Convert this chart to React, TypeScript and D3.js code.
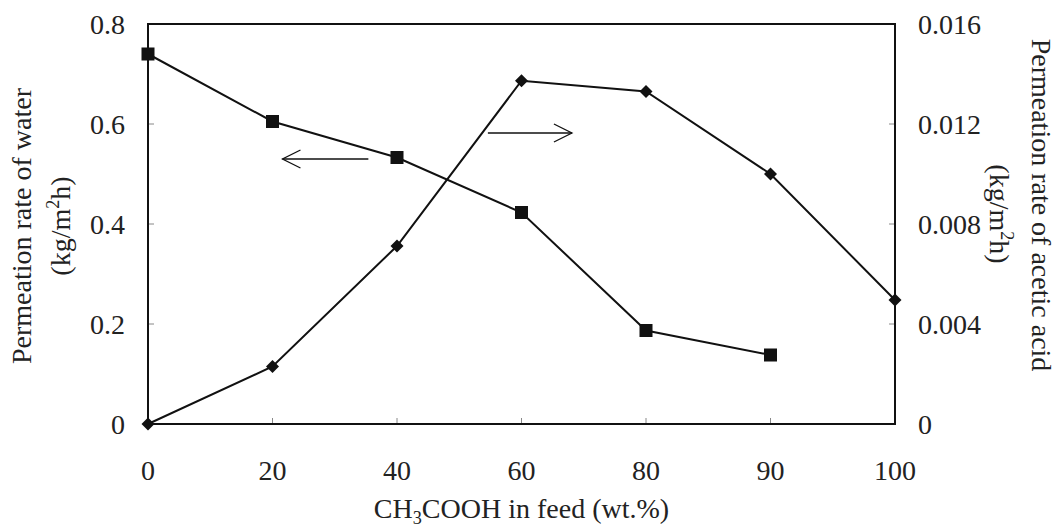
import React from "react";
import * as d3 from "d3";

const categories = ["0", "20", "40", "60", "80", "90", "100"];
const waterRate = [0.74, 0.605, 0.533, 0.423, 0.187, 0.138];
const aceticRate = [0, 0.0023, 0.00712, 0.01373, 0.0133, 0.01, 0.00496];
const leftTicks = [0, 0.2, 0.4, 0.6, 0.8];
const leftTickLabels = ["0", "0.2", "0.4", "0.6", "0.8"];
const rightTicks = [0, 0.004, 0.008, 0.012, 0.016];
const rightTickLabels = ["0", "0.004", "0.008", "0.012", "0.016"];
// arrow annotations: [index position, value] on the matching axis
const leftArrow = { from: [1.77, 0.53], to: [1.08, 0.53] };
const rightArrow = { from: [2.73, 0.01164], to: [3.405, 0.01164] };

const W = 1058;
const H = 530;
const X0 = 148;
const X1 = 895;
const Y0 = 424;
const Y1 = 24;
const FONT = "'Liberation Serif', 'Times New Roman', serif";
const FS = 28;

export default function App() {
  const x = d3.scalePoint<string>().domain(categories).range([X0, X1]).padding(0);
  const xIdx = d3.scaleLinear().domain([0, categories.length - 1]).range([X0, X1]);
  const yL = d3.scaleLinear().domain([0, 0.8]).range([Y0, Y1]);
  const yR = d3.scaleLinear().domain([0, 0.016]).range([Y0, Y1]);

  const waterLine = d3
    .line<number>()
    .x((_, i) => x(categories[i]) as number)
    .y((d) => yL(d));
  const aceticLine = d3
    .line<number>()
    .x((_, i) => x(categories[i]) as number)
    .y((d) => yR(d));

  const sq = 13;
  const dm = 6.5;

  const arrow = (
    a: { from: number[]; to: number[] },
    ys: d3.ScaleLinear<number, number>,
    key: string
  ) => {
    const fx = xIdx(a.from[0]);
    const fy = ys(a.from[1]);
    const tx = xIdx(a.to[0]);
    const ty = ys(a.to[1]);
    const dir = tx > fx ? -1 : 1;
    return (
      <g key={key} stroke="#111" strokeWidth={1.3} fill="none">
        <line x1={fx} y1={fy} x2={tx} y2={ty} />
        <polyline points={`${tx + dir * 18},${ty - 9} ${tx},${ty} ${tx + dir * 18},${ty + 9}`} />
      </g>
    );
  };

  return (
    <svg
      width={W}
      height={H}
      style={{ position: "absolute", left: 0, top: 0, background: "#fff" }}
      fontFamily={FONT}
    >
      <rect x={0} y={0} width={W} height={H} fill="#fff" />
      {/* inner ticks */}
      <g stroke="#888" strokeWidth={1}>
        {leftTicks.map((t, i) => (
          <line key={"lt" + i} x1={X0} x2={X0 + 6} y1={yL(t)} y2={yL(t)} />
        ))}
        {rightTicks.map((t, i) => (
          <line key={"rt" + i} x1={X1 - 6} x2={X1} y1={yR(t)} y2={yR(t)} />
        ))}
        {categories.map((c) => (
          <line key={"bt" + c} x1={x(c)} x2={x(c)} y1={Y0} y2={Y0 - 6} />
        ))}
      </g>
      {/* frame */}
      <rect x={X0} y={Y1} width={X1 - X0} height={Y0 - Y1} fill="none" stroke="#111" strokeWidth={2} />

      {/* series */}
      <path d={waterLine(waterRate) || ""} fill="none" stroke="#111" strokeWidth={2} />
      <path d={aceticLine(aceticRate) || ""} fill="none" stroke="#111" strokeWidth={2} />
      {waterRate.map((v, i) => (
        <rect
          key={"s" + i}
          x={(x(categories[i]) as number) - sq / 2}
          y={yL(v) - sq / 2}
          width={sq}
          height={sq}
          fill="#111"
        />
      ))}
      {aceticRate.map((v, i) => {
        const cx = x(categories[i]) as number;
        const cy = yR(v);
        return (
          <path
            key={"d" + i}
            d={`M${cx},${cy - dm}L${cx + dm},${cy}L${cx},${cy + dm}L${cx - dm},${cy}Z`}
            fill="#111"
          />
        );
      })}

      {arrow(leftArrow, yL, "la")}
      {arrow(rightArrow, yR, "ra")}

      {/* tick labels */}
      <g fontSize={FS} fill="#222">
        {leftTicks.map((t, i) => (
          <text key={"ll" + i} x={X0 - 23} y={yL(t)} dy="0.35em" textAnchor="end">
            {leftTickLabels[i]}
          </text>
        ))}
        {rightTicks.map((t, i) => (
          <text key={"rl" + i} x={X1 + 23} y={yR(t)} dy="0.35em" textAnchor="start">
            {rightTickLabels[i]}
          </text>
        ))}
        {categories.map((c) => (
          <text key={"xl" + c} x={x(c)} y={470} dy="0.35em" textAnchor="middle">
            {c}
          </text>
        ))}
      </g>

      {/* axis titles */}
      <g fontSize={FS} fill="#222" textAnchor="middle">
        <text x={(X0 + X1) / 2} y={518}>
          CH<tspan fontSize={FS * 0.65} dy="6">3</tspan>
          <tspan dy="-6">COOH in feed (wt.%)</tspan>
        </text>
        <text transform={`translate(31,226) rotate(-90)`}>Permeation rate of water</text>
        <text transform={`translate(70,226) rotate(-90)`}>
          (kg/m<tspan fontSize={FS * 0.65} dy="-11">2</tspan>
          <tspan dy="11">h)</tspan>
        </text>
        <text transform={`translate(1032,205) rotate(90)`}>Permeation rate of acetic acid</text>
        <text transform={`translate(990,214) rotate(90)`}>
          (kg/m<tspan fontSize={FS * 0.65} dy="-11">2</tspan>
          <tspan dy="11">h)</tspan>
        </text>
      </g>
    </svg>
  );
}
